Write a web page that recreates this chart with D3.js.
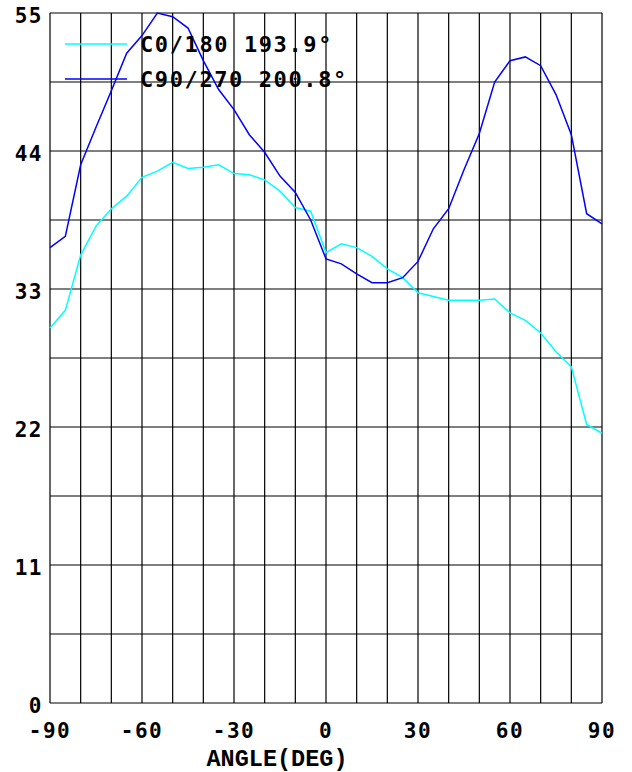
<!DOCTYPE html>
<html>
<head>
<meta charset="utf-8">
<script src="https://cdn.jsdelivr.net/npm/d3@7"></script>
<style>
  body { margin: 0; background: #fff; }
  text { font-family: "DejaVu Sans Mono", monospace; font-weight: bold; fill: #000; }
  text.title { font-family: "Liberation Mono", monospace; }
</style>
</head>
<body>
<div id="chart"></div>
<script>
// chart data
var angles = d3.range(-90, 91, 5);
var c0Values = [29.9, 31.3, 35.7, 38.0, 39.4, 40.4, 41.9, 42.4, 43.1, 42.6, 42.7, 42.9, 42.2, 42.1, 41.7, 40.8, 39.5, 39.2,
  35.9, 36.6, 36.3, 35.6, 34.6, 33.9, 32.7, 32.4, 32.1, 32.1, 32.1, 32.2, 31.1, 30.5, 29.5, 28.0, 26.8, 22.2, 21.5];
var c90Values = [36.3, 37.2, 42.9, 45.9, 48.8, 51.8, 53.2, 55.0, 54.7, 53.8, 51.2, 48.9, 47.3, 45.3, 43.9, 42.0, 40.7, 38.5,
  35.4, 35.0, 34.2, 33.5, 33.5, 33.9, 35.2, 37.8, 39.4, 42.5, 45.4, 49.5, 51.2, 51.5, 50.8, 48.5, 45.3, 39.0, 38.2];
var seriesNames = ["C0/180 193.9°", "C90/270 200.8°"];
var seriesColors = ["#00ffff", "#0000ff"];
var xTicks = [-90, -60, -30, 0, 30, 60, 90];
var yTicks = [0, 11, 22, 33, 44, 55];
var xTitle = "ANGLE(DEG)";

var svgWidth = 632;
var svgHeight = 772;
var margin = { top: 13, right: 30, bottom: 69, left: 50 };
var width = svgWidth - margin.left - margin.right;
var height = svgHeight - margin.top - margin.bottom;

var svg = d3.select("#chart").append("svg")
  .attr("width", svgWidth)
  .attr("height", svgHeight);

var chartGroup = svg.append("g")
  .attr("transform", `translate(${margin.left}, ${margin.top})`);

var xScale = d3.scaleLinear().domain([-90, 90]).range([0, width]);
var yScale = d3.scaleLinear().domain([0, 55]).range([height, 0]);

// grid: every 10 deg, every 5.5 units
chartGroup.selectAll(".vgrid")
  .data(d3.range(-90, 91, 10))
  .enter().append("line")
  .attr("x1", d => xScale(d)).attr("x2", d => xScale(d))
  .attr("y1", 0).attr("y2", height)
  .attr("stroke", "#000").attr("stroke-width", 1.2);

chartGroup.selectAll(".hgrid")
  .data(d3.range(0, 11).map(i => i * 5.5))
  .enter().append("line")
  .attr("x1", 0).attr("x2", width)
  .attr("y1", d => yScale(d)).attr("y2", d => yScale(d))
  .attr("stroke", "#000").attr("stroke-width", 1.2);

// tick labels
chartGroup.selectAll(".ylab")
  .data(yTicks)
  .enter().append("text")
  .attr("x", -7)
  .attr("y", d => yScale(d) + 10)
  .attr("text-anchor", "end")
  .attr("font-size", 21)
  .attr("letter-spacing", 1.5)
  .text(d => d);

chartGroup.selectAll(".xlab")
  .data(xTicks)
  .enter().append("text")
  .attr("x", d => xScale(d))
  .attr("y", height + 35)
  .attr("text-anchor", "middle")
  .attr("font-size", 21)
  .attr("letter-spacing", 1.5)
  .text(d => d);

chartGroup.append("text")
  .attr("class", "title")
  .attr("x", 227)
  .attr("y", height + 63)
  .attr("text-anchor", "middle")
  .attr("font-size", 23.5)
  .text(xTitle);

// lines
var line = d3.line()
  .x((d, i) => xScale(angles[i]))
  .y(d => yScale(d));

[c0Values, c90Values].forEach(function (vals, i) {
  chartGroup.append("path")
    .datum(vals)
    .attr("d", line)
    .attr("fill", "none")
    .attr("stroke", seriesColors[i])
    .attr("stroke-width", 1.5);
});

// legend
var legend = chartGroup.append("g");
seriesNames.forEach(function (name, i) {
  var ly = 31 + i * 35;
  legend.append("line")
    .attr("x1", 15).attr("x2", 77)
    .attr("y1", ly).attr("y2", ly)
    .attr("stroke", seriesColors[i])
    .attr("stroke-width", 1.5);
  legend.append("text")
    .attr("x", 90)
    .attr("y", ly + 8)
    .attr("font-size", 22)
    .attr("letter-spacing", 1.6)
    .text(name);
});
</script>
</body>
</html>
